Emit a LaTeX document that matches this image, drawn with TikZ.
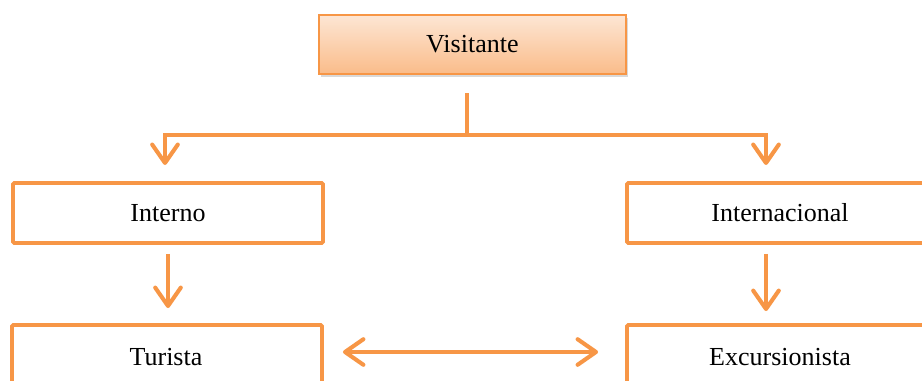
\documentclass[tikz,border=0pt]{standalone}
\usepackage{fontspec}
\setmainfont{Liberation Serif}
\usetikzlibrary{arrows.meta,shadows}
\definecolor{naranja}{HTML}{F79646}
\definecolor{naranjaclaro}{HTML}{FDE6D4}
\definecolor{naranjamedio}{HTML}{FABC8A}
\begin{document}
\begin{tikzpicture}[
    caja/.style={draw=naranja, line width=2.8pt, rounded corners=1pt, fill=white,
        minimum width=7.75cm, minimum height=1.5cm, inner sep=0pt,
        font=\fontsize{18.5}{22}\selectfont},
    cajatop/.style={draw=naranja, line width=1.2pt, top color=naranjaclaro, bottom color=naranjamedio,
        minimum width=7.675cm, minimum height=1.475cm, inner sep=0pt,
        drop shadow={shadow xshift=0.4mm, shadow yshift=-0.8mm, opacity=0.3},
        font=\fontsize{18.5}{22}\selectfont},
    linea/.style={draw=naranja, line width=2.9pt},
    flecha/.style={linea, -{Straight Barb[round,length=4.6mm,width=6.4mm]}},
    dobleflecha/.style={linea, {Straight Barb[round,length=4.6mm,width=6.4mm]}-{Straight Barb[round,length=4.6mm,width=6.4mm]}}
]
\useasboundingbox (0,0) rectangle (23.05,-9.525);
\clip (0,0) rectangle (23.05,-9.525);
\node[cajatop] (visitante) at (11.81,-1.11) {Visitante};
\node[caja] (interno) at (4.2,-5.325) {Interno};
\node[caja] (internacional) at (19.55,-5.325) {};
\node at (19.5,-5.325) [font=\fontsize{18.5}{22}\selectfont] (txtinter) {Internacional};
\node[caja] (turista) at (4.175,-8.875) {};
\node at (4.15,-8.93) [font=\fontsize{18.5}{22}\selectfont] (txttur) {Turista};
\node[caja] (excursionista) at (19.55,-8.875) {};
\node at (19.5,-8.93) [font=\fontsize{18.5}{22}\selectfont] (txtexc) {Excursionista};
% ramificacion
\coordinate (arranque) at (11.675,-2.325);
\coordinate (cruce) at (11.675,-3.375);
\coordinate (finizq) at (4.125,-4.125);
\coordinate (finder) at (19.15,-4.125);
\draw[linea] (arranque) -- (cruce);
\draw[flecha] (cruce) -| (finizq);
\draw[flecha] (cruce) -| (finder);
% flechas verticales
\draw[flecha, shorten <=0.225cm, shorten >=0.375cm] (interno.south) -- (interno.south |- turista.north);
\draw[flecha, shorten <=0.225cm, shorten >=0.3cm] (internacional.south -| finder) -- (excursionista.north -| finder);
% flecha doble
\draw[dobleflecha, shorten <=0.475cm, shorten >=0.675cm] ([yshift=0.075cm]turista.east) -- ([yshift=0.075cm]excursionista.west);
\end{tikzpicture}
\end{document}
